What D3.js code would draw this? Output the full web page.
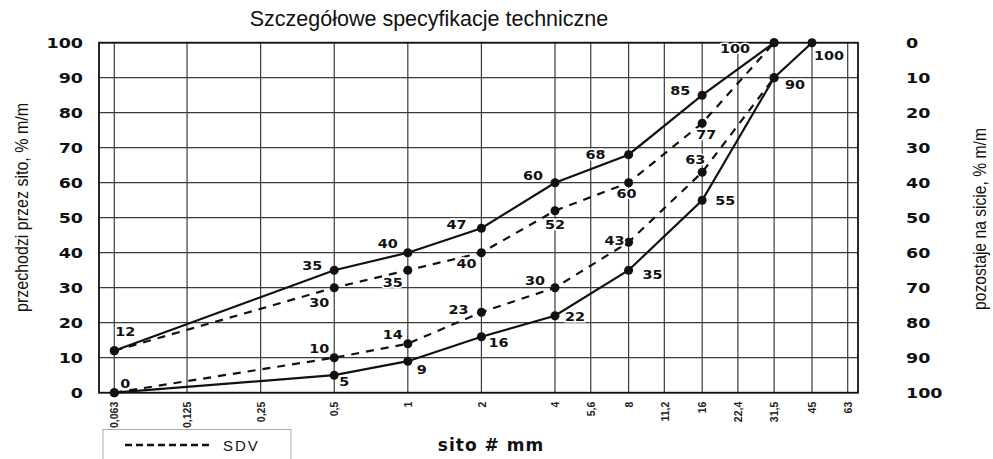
<!DOCTYPE html>
<html>
<head>
<meta charset="utf-8">
<script src="https://cdn.jsdelivr.net/npm/d3@7"></script>
<style>
  body { margin: 0; background: #fff; }
  svg { display: block; }
</style>
</head>
<body>
<script>
var width = 993,
    height = 459;

// sieve sizes (mm) and their labels on the x axis
var sieves = [0.063, 0.125, 0.25, 0.5, 1, 2, 4, 5.6, 8, 11.2, 16, 22.4, 31.5, 45, 63];
var sieveLabels = ["0,063", "0,125", "0,25", "0,5", "1", "2", "4", "5,6", "8", "11,2", "16", "22,4", "31,5", "45", "63"];
var yTicks = [0, 10, 20, 30, 40, 50, 60, 70, 80, 90, 100];

// grading envelope (solid)
var upperSizes = [0.063, 0.5, 1, 2, 4, 8, 16, 31.5];
var upperPass = [12, 35, 40, 47, 60, 68, 85, 100];
var lowerSizes = [0.063, 0.5, 1, 2, 4, 8, 16, 31.5, 45];
var lowerPass = [0, 5, 9, 16, 22, 35, 55, 90, 100];

// SDV envelope (dashed)
var sdvUpperSizes = [0.063, 0.5, 1, 2, 4, 8, 16, 31.5];
var sdvUpperPass = [12, 30, 35, 40, 52, 60, 77, 100];
var sdvLowerSizes = [0.063, 0.5, 1, 2, 4, 8, 16, 31.5];
var sdvLowerPass = [0, 10, 14, 23, 30, 43, 63, 90];

// where each value label sits relative to its point (null = no label)
var upperOff = [[11, -19], [-22, -5], [-20, -9], [-25, -4], [-22, -7], [-33, 0], [-22, -5], [-39, 6]];
var lowerOff = [[11, -9], [10, 6], [14, 8], [17, 6], [20, 1], [24, 4], [23, 0], [21, 7], [17, 13]];
var sdvUpperOff = [null, [-15, 15], [-15, 12], [-15, 11], [0, 14], [-2, 11], [4, 11], null];
var sdvLowerOff = [null, [-15, -9], [-15, -9], [-23, -3], [-20, -7], [-14, -2], [-7, -13], null];

// plot frame
var frameL = 99, frameR = 858, frameT = 42.7, frameB = 392.7;

var x = d3.scaleLog().base(2)
    .domain([0.063, 63])
    .range([114.3, 847.7]);

var y = d3.scaleLinear()
    .domain([0, 100])
    .range([frameB, frameT]);

var yRight = d3.scaleLinear()
    .domain([100, 0])
    .range([frameB, frameT]);

var svg = d3.select("body").append("svg")
    .attr("width", width)
    .attr("height", height);

// title
svg.append("text")
  .attr("x", 429)
  .attr("y", 26)
  .attr("text-anchor", "middle")
  .style("font-family", "'Liberation Sans', Arial, sans-serif")
  .style("font-size", "21.5px")
  .attr("fill", "#111")
  .text("Szczegółowe specyfikacje techniczne");

// grid
var grid = svg.append("g").attr("class", "grid");

grid.selectAll("line.v")
  .data(sieves)
  .enter().append("line")
  .attr("class", "v")
  .attr("x1", function(d) { return x(d); })
  .attr("x2", function(d) { return x(d); })
  .attr("y1", frameT)
  .attr("y2", frameB)
  .attr("stroke", "#3a3a3a")
  .attr("stroke-width", 1.2);

grid.selectAll("line.h")
  .data(yTicks)
  .enter().append("line")
  .attr("class", "h")
  .attr("x1", frameL)
  .attr("x2", frameR)
  .attr("y1", function(d) { return y(d); })
  .attr("y2", function(d) { return y(d); })
  .attr("stroke", "#3a3a3a")
  .attr("stroke-width", 1.2);

svg.append("rect")
  .attr("x", frameL)
  .attr("y", frameT)
  .attr("width", frameR - frameL)
  .attr("height", frameB - frameT)
  .attr("fill", "none")
  .attr("stroke", "#111")
  .attr("stroke-width", 1.8);

// left axis
var axL = svg.append("g")
  .attr("transform", "translate(" + frameL + ",0)")
  .call(d3.axisLeft(y).tickValues(yTicks).tickSize(0));
axL.select(".domain").remove();
axL.selectAll("text")
  .attr("x", 0)
  .attr("dy", "0.36em")
  .attr("transform", "translate(-16,0) scale(1.25,1)")
  .attr("fill", "#111")
  .style("font-family", "'DejaVu Sans', sans-serif")
  .style("font-weight", "bold")
  .style("font-size", "14px");

// right axis (retained %)
var axR = svg.append("g")
  .attr("transform", "translate(" + frameR + ",0)")
  .call(d3.axisRight(yRight).tickValues(yTicks).tickSize(0));
axR.select(".domain").remove();
axR.selectAll("text")
  .attr("x", 0)
  .attr("dy", "0.36em")
  .attr("transform", "translate(48,0) scale(1.25,1)")
  .attr("fill", "#111")
  .style("font-family", "'DejaVu Sans', sans-serif")
  .style("font-weight", "bold")
  .style("font-size", "14px");

// bottom axis, rotated sieve labels
var axB = svg.append("g")
  .attr("transform", "translate(0," + frameB + ")")
  .call(d3.axisBottom(x).tickValues(sieves).tickSize(0)
    .tickFormat(function(d, i) { return sieveLabels[i]; }));
axB.select(".domain").remove();
axB.selectAll("text")
  .attr("x", -9)
  .attr("y", 0)
  .attr("dy", "0.35em")
  .attr("transform", "rotate(-90)")
  .attr("text-anchor", "end")
  .attr("fill", "#222")
  .style("font-family", "'Liberation Sans Narrow', 'Liberation Sans', sans-serif")
  .style("font-stretch", "condensed")
  .style("font-weight", "bold")
  .style("font-size", "10.5px");

// axis titles
svg.append("text")
  .attr("transform", "translate(28,207.5) rotate(-90)")
  .attr("text-anchor", "middle")
  .attr("textLength", 209)
  .attr("lengthAdjust", "spacingAndGlyphs")
  .style("font-family", "'Liberation Sans Narrow', 'Liberation Sans', sans-serif")
  .style("font-size", "19px")
  .attr("fill", "#111")
  .text("przechodzi przez sito, % m/m");

svg.append("text")
  .attr("transform", "translate(986,219) rotate(-90)")
  .attr("text-anchor", "middle")
  .attr("textLength", 182)
  .attr("lengthAdjust", "spacingAndGlyphs")
  .style("font-family", "'Liberation Sans Narrow', 'Liberation Sans', sans-serif")
  .style("font-size", "19px")
  .attr("fill", "#111")
  .text("pozostaje na sicie, % m/m");

svg.append("text")
  .attr("x", 491)
  .attr("y", 451)
  .attr("text-anchor", "middle")
  .style("font-family", "'DejaVu Sans', sans-serif")
  .style("font-weight", "bold")
  .style("font-size", "17px")
  .style("letter-spacing", "1px")
  .attr("fill", "#111")
  .text("sito # mm");

// curves
var curves = [
  {sizes: upperSizes, pass: upperPass, off: upperOff, dash: null},
  {sizes: lowerSizes, pass: lowerPass, off: lowerOff, dash: null},
  {sizes: sdvUpperSizes, pass: sdvUpperPass, off: sdvUpperOff, dash: "8,7"},
  {sizes: sdvLowerSizes, pass: sdvLowerPass, off: sdvLowerOff, dash: "8,7"}
];

var line = d3.line()
  .x(function(d) { return x(d.size); })
  .y(function(d) { return y(d.pass); });

curves.forEach(function(c) {
  c.points = c.sizes.map(function(s, i) {
    return {size: s, pass: c.pass[i], off: c.off[i]};
  });
});

svg.append("g").selectAll("path")
  .data(curves)
  .enter().append("path")
  .attr("d", function(c) { return line(c.points); })
  .attr("fill", "none")
  .attr("stroke", "#111")
  .attr("stroke-width", 2.2)
  .attr("stroke-dasharray", function(c) { return c.dash; });

var allPoints = [];
curves.forEach(function(c) { allPoints = allPoints.concat(c.points); });

svg.append("g").selectAll("circle")
  .data(allPoints)
  .enter().append("circle")
  .attr("cx", function(d) { return x(d.size); })
  .attr("cy", function(d) { return y(d.pass); })
  .attr("r", 4.5)
  .attr("fill", "#111");

svg.append("g").selectAll("text")
  .data(allPoints.filter(function(d) { return d.off; }))
  .enter().append("text")
  .attr("transform", function(d) {
    return "translate(" + (x(d.size) + d.off[0]) + "," + (y(d.pass) + d.off[1]) + ") scale(1.2,1)";
  })
  .attr("dy", "0.36em")
  .attr("text-anchor", "middle")
  .attr("fill", "#111")
  .attr("stroke", "#fff")
  .attr("stroke-width", 3)
  .style("paint-order", "stroke")
  .style("font-family", "'DejaVu Sans', sans-serif")
  .style("font-weight", "bold")
  .style("font-size", "12px")
  .text(function(d) { return d.pass; });

// legend
var legend = svg.append("g");
legend.append("rect")
  .attr("x", 103)
  .attr("y", 429.5)
  .attr("width", 188)
  .attr("height", 40)
  .attr("fill", "#fff")
  .attr("stroke", "#aaa")
  .attr("stroke-width", 1);
legend.append("line")
  .attr("x1", 125)
  .attr("x2", 213)
  .attr("y1", 445)
  .attr("y2", 445)
  .attr("stroke", "#111")
  .attr("stroke-width", 2.4)
  .attr("stroke-dasharray", "7,4");
legend.append("text")
  .attr("x", 223)
  .attr("y", 450.5)
  .style("font-family", "'Liberation Sans', Arial, sans-serif")
  .style("font-size", "15px")
  .style("letter-spacing", "2px")
  .attr("fill", "#111")
  .text("SDV");
</script>
</body>
</html>
